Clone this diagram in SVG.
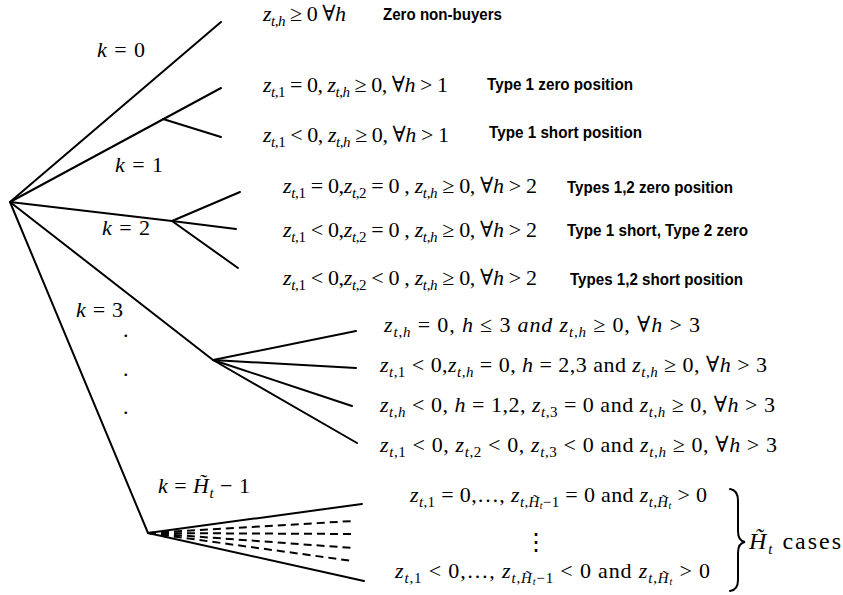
<svg xmlns="http://www.w3.org/2000/svg" width="843" height="595" viewBox="0 0 843 595">
<style>
.ln{stroke:#000;stroke-width:2;fill:none;stroke-linecap:round}
.dl{stroke:#000;stroke-width:2;fill:none;stroke-dasharray:8 5}
.m{font-family:"Liberation Serif","DejaVu Serif",serif;font-size:22px;fill:#000}
.i{font-style:italic}
.s{font-size:15px}
.ss{font-size:10px}
.b{font-family:"Liberation Sans",Arial,sans-serif;font-weight:bold;font-size:17px;fill:#000}
</style>
<rect width="843" height="595" fill="#fff"/>
<g id="connectors">
<line class="ln" x1="10" y1="202" x2="221" y2="22"/>
<line class="ln" x1="10" y1="202" x2="221" y2="88"/>
<line class="ln" x1="163" y1="119" x2="221" y2="137"/>
<line class="ln" x1="10" y1="202" x2="172" y2="221"/>
<line class="ln" x1="172" y1="221" x2="240" y2="192"/>
<line class="ln" x1="172" y1="221" x2="236" y2="229"/>
<line class="ln" x1="172" y1="221" x2="238" y2="268"/>
<line class="ln" x1="10" y1="202" x2="213" y2="360"/>
<line class="ln" x1="213" y1="360" x2="356" y2="331"/>
<line class="ln" x1="213" y1="360" x2="356" y2="368"/>
<line class="ln" x1="213" y1="360" x2="352" y2="406"/>
<line class="ln" x1="213" y1="360" x2="357" y2="443"/>
<line class="ln" x1="10" y1="202" x2="148" y2="533"/>
<line class="ln" x1="148" y1="533" x2="362" y2="504"/>
<line class="ln" x1="148" y1="533" x2="364" y2="581"/>
<line class="dl" x1="148" y1="533" x2="353" y2="521"/>
<line class="dl" x1="148" y1="533" x2="353" y2="534"/>
<line class="dl" x1="148" y1="533" x2="353" y2="548"/>
<line class="dl" x1="148" y1="533" x2="353" y2="561"/>
</g>
<g id="k-labels">
<text class="m" x="97" y="57" textLength="48"><tspan class="i">k</tspan> = 0</text>
<text class="m" x="115" y="172" textLength="48"><tspan class="i">k</tspan> = 1</text>
<text class="m" x="102" y="235" textLength="48"><tspan class="i">k</tspan> = 2</text>
<text class="m" x="76" y="317" textLength="47"><tspan class="i">k</tspan> = 3</text>
<text class="m" x="123" y="337">.</text>
<text class="m" x="123" y="376">.</text>
<text class="m" x="123" y="414">.</text>
<text class="m" x="158" y="493" textLength="92"><tspan class="i">k</tspan> = <tspan class="i">H̃</tspan><tspan class="s i" dy="5">t</tspan><tspan dy="-5"> − 1</tspan></text>
</g>
<g id="leaf-k0">
<text class="m" x="263" y="21" textLength="83"><tspan class="i">z</tspan><tspan class="s" dy="5"><tspan class="i">t</tspan>,<tspan class="i">h</tspan></tspan><tspan dy="-5"> ≥ 0 ∀</tspan><tspan class="i">h</tspan></text>
<text class="b" x="383" y="20" textLength="119" lengthAdjust="spacingAndGlyphs">Zero non-buyers</text>
</g>
<g id="leaf-k1a">
<text class="m" x="263" y="92" textLength="185"><tspan class="i">z</tspan><tspan class="s" dy="5"><tspan class="i">t</tspan>,1</tspan><tspan dy="-5"> = 0,  </tspan><tspan class="i">z</tspan><tspan class="s" dy="5"><tspan class="i">t</tspan>,<tspan class="i">h</tspan></tspan><tspan dy="-5"> ≥ 0, ∀</tspan><tspan class="i">h</tspan> &gt; 1</text>
<text class="b" x="487" y="90" textLength="146" lengthAdjust="spacingAndGlyphs">Type 1 zero position</text>
</g>
<g id="leaf-k1b">
<text class="m" x="263" y="142" textLength="186"><tspan class="i">z</tspan><tspan class="s" dy="5"><tspan class="i">t</tspan>,1</tspan><tspan dy="-5"> &lt; 0,  </tspan><tspan class="i">z</tspan><tspan class="s" dy="5"><tspan class="i">t</tspan>,<tspan class="i">h</tspan></tspan><tspan dy="-5"> ≥ 0, ∀</tspan><tspan class="i">h</tspan> &gt; 1</text>
<text class="b" x="489" y="138" textLength="153" lengthAdjust="spacingAndGlyphs">Type 1 short position</text>
</g>
<g id="leaf-k2a">
<text class="m" x="283" y="193" textLength="254"><tspan class="i">z</tspan><tspan class="s" dy="5"><tspan class="i">t</tspan>,1</tspan><tspan dy="-5"> = 0,</tspan><tspan class="i">z</tspan><tspan class="s" dy="5"><tspan class="i">t</tspan>,2</tspan><tspan dy="-5"> = 0 ,  </tspan><tspan class="i">z</tspan><tspan class="s" dy="5"><tspan class="i">t</tspan>,<tspan class="i">h</tspan></tspan><tspan dy="-5"> ≥ 0, ∀</tspan><tspan class="i">h</tspan> &gt; 2</text>
<text class="b" x="567" y="193" textLength="166" lengthAdjust="spacingAndGlyphs">Types 1,2 zero position</text>
</g>
<g id="leaf-k2b">
<text class="m" x="283" y="237" textLength="254"><tspan class="i">z</tspan><tspan class="s" dy="5"><tspan class="i">t</tspan>,1</tspan><tspan dy="-5"> &lt; 0,</tspan><tspan class="i">z</tspan><tspan class="s" dy="5"><tspan class="i">t</tspan>,2</tspan><tspan dy="-5"> = 0 ,  </tspan><tspan class="i">z</tspan><tspan class="s" dy="5"><tspan class="i">t</tspan>,<tspan class="i">h</tspan></tspan><tspan dy="-5"> ≥ 0, ∀</tspan><tspan class="i">h</tspan> &gt; 2</text>
<text class="b" x="567" y="236" textLength="181" lengthAdjust="spacingAndGlyphs">Type 1 short, Type 2 zero</text>
</g>
<g id="leaf-k2c">
<text class="m" x="283" y="285" textLength="254"><tspan class="i">z</tspan><tspan class="s" dy="5"><tspan class="i">t</tspan>,1</tspan><tspan dy="-5"> &lt; 0,</tspan><tspan class="i">z</tspan><tspan class="s" dy="5"><tspan class="i">t</tspan>,2</tspan><tspan dy="-5"> &lt; 0 ,  </tspan><tspan class="i">z</tspan><tspan class="s" dy="5"><tspan class="i">t</tspan>,<tspan class="i">h</tspan></tspan><tspan dy="-5"> ≥ 0, ∀</tspan><tspan class="i">h</tspan> &gt; 2</text>
<text class="b" x="570" y="285" textLength="173" lengthAdjust="spacingAndGlyphs">Types 1,2 short position</text>
</g>
<g id="leaf-k3a">
<text class="m" x="384" y="332" textLength="316"><tspan class="i">z</tspan><tspan class="s" dy="5"><tspan class="i">t</tspan>,<tspan class="i">h</tspan></tspan><tspan dy="-5"> = 0, </tspan><tspan class="i">h</tspan>  ≤ 3 <tspan class="i">and</tspan>  <tspan class="i">z</tspan><tspan class="s" dy="5"><tspan class="i">t</tspan>,<tspan class="i">h</tspan></tspan><tspan dy="-5"> ≥ 0,  ∀</tspan><tspan class="i">h</tspan> &gt; 3</text>
</g>
<g id="leaf-k3b">
<text class="m" x="380" y="372" textLength="387"><tspan class="i">z</tspan><tspan class="s" dy="5"><tspan class="i">t</tspan>,1</tspan><tspan dy="-5"> &lt; 0,</tspan><tspan class="i">z</tspan><tspan class="s" dy="5"><tspan class="i">t</tspan>,<tspan class="i">h</tspan></tspan><tspan dy="-5"> = 0, </tspan><tspan class="i">h</tspan> = 2,3  and <tspan class="i">z</tspan><tspan class="s" dy="5"><tspan class="i">t</tspan>,<tspan class="i">h</tspan></tspan><tspan dy="-5"> ≥ 0, ∀</tspan><tspan class="i">h</tspan> &gt; 3</text>
</g>
<g id="leaf-k3c">
<text class="m" x="380" y="412" textLength="395"><tspan class="i">z</tspan><tspan class="s" dy="5"><tspan class="i">t</tspan>,<tspan class="i">h</tspan></tspan><tspan dy="-5"> &lt; 0, </tspan><tspan class="i">h</tspan> = 1,2,  <tspan class="i">z</tspan><tspan class="s" dy="5"><tspan class="i">t</tspan>,3</tspan><tspan dy="-5"> = 0  and </tspan><tspan class="i">z</tspan><tspan class="s" dy="5"><tspan class="i">t</tspan>,<tspan class="i">h</tspan></tspan><tspan dy="-5"> ≥ 0, ∀</tspan><tspan class="i">h</tspan> &gt; 3</text>
</g>
<g id="leaf-k3d">
<text class="m" x="380" y="452" textLength="397"><tspan class="i">z</tspan><tspan class="s" dy="5"><tspan class="i">t</tspan>,1</tspan><tspan dy="-5"> &lt; 0,  </tspan><tspan class="i">z</tspan><tspan class="s" dy="5"><tspan class="i">t</tspan>,2</tspan><tspan dy="-5"> &lt; 0,  </tspan><tspan class="i">z</tspan><tspan class="s" dy="5"><tspan class="i">t</tspan>,3</tspan><tspan dy="-5"> &lt; 0 and  </tspan><tspan class="i">z</tspan><tspan class="s" dy="5"><tspan class="i">t</tspan>,<tspan class="i">h</tspan></tspan><tspan dy="-5"> ≥ 0, ∀</tspan><tspan class="i">h</tspan> &gt; 3</text>
</g>
<g id="leaf-last">
<text class="m" x="410" y="502" textLength="297"><tspan class="i">z</tspan><tspan class="s" dy="5"><tspan class="i">t</tspan>,1</tspan><tspan dy="-5"> = 0,…,  </tspan><tspan class="i">z</tspan><tspan class="s" dy="5"><tspan class="i">t</tspan>,<tspan class="i">H̃</tspan><tspan class="ss i" dy="2">t</tspan><tspan dy="-2">−1</tspan></tspan><tspan dy="-5"> = 0 and  </tspan><tspan class="i">z</tspan><tspan class="s" dy="5"><tspan class="i">t</tspan>,<tspan class="i">H̃</tspan><tspan class="ss i" dy="2">t</tspan></tspan><tspan dy="-7">  &gt; 0</tspan></text>
<text class="m" x="524" y="550" style="font-family:'DejaVu Serif',serif;font-size:24px">⋮</text>
<text class="m" x="395" y="578" textLength="315"><tspan class="i">z</tspan><tspan class="s" dy="5"><tspan class="i">t</tspan>,1</tspan><tspan dy="-5"> &lt; 0,…,  </tspan><tspan class="i">z</tspan><tspan class="s" dy="5"><tspan class="i">t</tspan>,<tspan class="i">H̃</tspan><tspan class="ss i" dy="2">t</tspan><tspan dy="-2">−1</tspan></tspan><tspan dy="-5"> &lt; 0 and  </tspan><tspan class="i">z</tspan><tspan class="s" dy="5"><tspan class="i">t</tspan>,<tspan class="i">H̃</tspan><tspan class="ss i" dy="2">t</tspan></tspan><tspan dy="-7">  &gt; 0</tspan></text>
<path class="ln" stroke-width="3" d="M730,489 Q738,490 738,501 L738,531 Q738,541 745,542 Q738,543 738,553 L738,580 Q738,590 730,591"/>
<text class="m" x="749" y="549" style="font-size:24px" textLength="92"><tspan class="i">H̃</tspan><tspan class="s i" dy="5">t</tspan><tspan dy="-5"> cases</tspan></text>
</g>
</svg>
